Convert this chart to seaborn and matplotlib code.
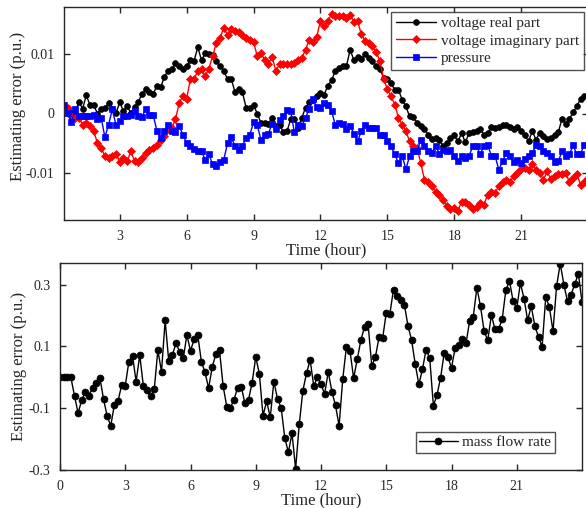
import numpy as np
import pandas as pd
import matplotlib
matplotlib.use("Agg")
import matplotlib.pyplot as plt
import seaborn as sns

# ---------------- data ----------------
volt_real = [0.0007, 0.0007, 0.0001, 0.0001, 0.002, 0.0008, 0.0031, 0.0014, 0.0014, 0.0, 0.0008, 0.001,
             0.0018, 0.0008, 0.0001, 0.0019, 0.0004, 0.0012, 0.0001, 0.0011, 0.002, 0.0033, 0.0041, 0.0037,
             0.0033, 0.0047, 0.0044, 0.0062, 0.0072, 0.0076, 0.0085, 0.0081, 0.0075, 0.008, 0.009, 0.0089,
             0.0112, 0.009, 0.0102, 0.01, 0.0099, 0.0088, 0.008, 0.0072, 0.0058, 0.0059, 0.0036,
             0.0041, 0.0036, 0.001, 0.001, 0.0014, 0.0, -0.0016, -0.0016, -0.0017, -0.0007, -0.0021, -0.0019,
             -0.0031, -0.003, -0.001, -0.0009, -0.0024, -0.0007, 0.001, 0.0019, 0.0023, 0.0029, 0.0035, 0.0032,
             0.0047, 0.0056, 0.0072, 0.0077, 0.008, 0.008, 0.0108, 0.009, 0.0095, 0.0092, 0.01, 0.0094,
             0.0089, 0.008, 0.0076, 0.006, 0.0059, 0.0051, 0.004, 0.004, 0.0023, 0.0012,
             -0.0005, -0.0006, -0.0016, -0.0021, -0.0026, -0.0036, -0.0043, -0.0041, -0.0045, -0.0055, -0.005,
             -0.0041, -0.0037, -0.0047, -0.0033, -0.0049, -0.0033, -0.0032, -0.003, -0.0027, -0.0036, -0.0033,
             -0.0023, -0.0024, -0.0023, -0.0019, -0.002, -0.0023, -0.0027, -0.0023, -0.003, -0.0036, -0.0047,
             -0.003, -0.0044, -0.0033, -0.0038, -0.0043, -0.0041, -0.0036, -0.0032, -0.0009, -0.0017, -0.0009,
             0.0002, 0.0012, 0.0025, 0.0029]

volt_imag = [0.0001, 0.001, -0.0005, -0.0007, -0.0007, -0.0019, -0.0016, -0.0021, -0.003, -0.005, -0.0058,
             -0.0072, -0.0075, -0.0072, -0.0068, -0.0082, -0.0075, -0.0081, -0.0064, -0.0081, -0.0082, -0.0075,
             -0.0066, -0.0062, -0.0058, -0.0053, -0.0044, -0.0038, -0.0027, -0.0024, -0.001, 0.0018, 0.0029,
             0.0025, 0.0058, 0.0058, 0.0072, 0.0075, 0.0063, 0.0076, 0.0097, 0.012, 0.0128, 0.0145, 0.0132,
             0.0142, 0.014, 0.0137,
             0.0132, 0.0128, 0.0125, 0.0121, 0.0097, 0.0103, 0.009, 0.0083, 0.0096, 0.0072, 0.0083, 0.0083,
             0.0083, 0.0083, 0.0086, 0.009, 0.0094, 0.0108, 0.0125, 0.0121, 0.013, 0.0156, 0.0148, 0.0156,
             0.0168, 0.0164, 0.0164, 0.0165, 0.0162, 0.0166, 0.0155, 0.0156, 0.0134, 0.0123, 0.012, 0.0114,
             0.0104, 0.0089, 0.0058, 0.0042, 0.0029, 0.0015, -0.0007, -0.0019, -0.003, -0.0047, -0.0055,
             -0.0058, -0.0084, -0.0112, -0.0115, -0.0123, -0.0133, -0.0137, -0.0146, -0.0157, -0.0162, -0.016,
             -0.0164, -0.0149, -0.015, -0.0154, -0.0162, -0.0158, -0.0151, -0.0154, -0.0137, -0.0133, -0.0134,
             -0.0123, -0.0116, -0.0112, -0.0115, -0.0106, -0.01, -0.0094, -0.0092, -0.0095, -0.0086, -0.0095,
             -0.01, -0.0112, -0.0098, -0.0111, -0.0106, -0.0103, -0.0103, -0.01, -0.0116, -0.0109, -0.0103,
             -0.012, -0.0116, -0.0109]

pressure = [0.0015, 0.0001, -0.0015, 0.0008, -0.0005, -0.0005, -0.0005, -0.0005, -0.0002, -0.001, -0.0007,
            -0.004, -0.0019, 0.0007, -0.002, -0.0013, -0.0005, -0.0005, -0.0003, 0.0005, -0.0005, -0.0006,
            0.0008, -0.0003, -0.0003, -0.0029, -0.0041, -0.003, -0.002, -0.003, -0.0032, -0.0021, -0.0036,
            -0.005, -0.0055, -0.006, -0.0063, -0.0064, -0.0078, -0.0069, -0.0086, -0.0088, -0.0082, -0.0078,
            -0.005, -0.004, -0.0055, -0.0061,
            -0.0055, -0.0041, -0.0036, -0.0015, -0.0019, -0.0045, -0.0037, -0.0034, -0.0017, -0.0027, -0.0011,
            -0.0005, 0.0006, 0.0004, -0.0032, -0.002, -0.0021, -0.0007, 0.0007, 0.0024, 0.0011, 0.001, 0.0017,
            0.0014, 0.0005, -0.002, -0.0016, -0.0017, -0.0027, -0.0021, -0.0034, -0.0047, -0.003, -0.0019,
            -0.0024, -0.0024, -0.0024, -0.0037, -0.0036, -0.0047, -0.0055, -0.0069, -0.0084, -0.0072, -0.0094,
            -0.0072,
            -0.0064, -0.0064, -0.0044, -0.0055, -0.0064, -0.0066, -0.0055, -0.0068, -0.0061, -0.0064, -0.0061,
            -0.0072, -0.0081, -0.0072, -0.0075, -0.0072, -0.0055, -0.0055, -0.0069, -0.0055, -0.0054, -0.0071,
            -0.0072, -0.0095, -0.0081, -0.0066, -0.0072, -0.0082, -0.0078, -0.0084, -0.0077, -0.0072, -0.0067,
            -0.0054, -0.0055, -0.0064, -0.0066, -0.0072, -0.0082, -0.0081, -0.0064, -0.0071, -0.0069, -0.0054,
            -0.0069, -0.0068, -0.0053]

mass_flow = [0.0, 0.0, 0.0, 0.0, -0.06, -0.116, -0.073, -0.046, -0.059, -0.033, -0.019, -0.001, -0.07,
             -0.125, -0.157, -0.089, -0.078, -0.025, -0.028, 0.051, 0.07, -0.014, 0.072, -0.028, -0.041,
             -0.062, -0.039, 0.088, 0.018, 0.184, 0.053, 0.072, 0.11, 0.083, 0.061, 0.137, 0.086, 0.123,
             0.137, 0.051, 0.016, -0.035, 0.034, 0.075, 0.088, -0.028, -0.095, -0.098, -0.073, -0.033, -0.03,
             -0.084, -0.073, -0.017, 0.065, 0.011, -0.124, -0.078, -0.129, -0.014, -0.07, -0.098, -0.195,
             -0.243, -0.181, -0.296, -0.152, -0.043, 0.013, 0.056, -0.028, 0.0, -0.023, -0.054, 0.018, -0.046,
             -0.091, -0.157, -0.005, 0.097, 0.085, -0.003, 0.058, 0.12, 0.163, 0.171, 0.037, 0.065, 0.129,
             0.126, 0.209, 0.206, 0.284, 0.263, 0.249, 0.235, 0.166, 0.12,
             0.042, -0.023, 0.027, 0.09, 0.061, -0.092, -0.057, -0.001, 0.08, 0.065, 0.031, 0.094, 0.106,
             0.123, 0.11, 0.182, 0.196, 0.29, 0.23, 0.149, 0.12, 0.201, 0.156, 0.155, 0.19, 0.282, 0.312,
             0.246, 0.223, 0.305, 0.255, 0.185, 0.23, 0.166, 0.131, 0.099, 0.26, 0.228, 0.149, 0.296, 0.368,
             0.3, 0.246, 0.268, 0.301, 0.335, 0.244]

top_start_hour = 0.5
bottom_start_hour = 0.0
step_hour = 1 / 6

x_ticks = [0, 3, 6, 9, 12, 15, 18, 21]
top_yticks = [-0.01, 0, 0.01]
top_yticklabels = ["-0.01", "0", "0.01"]
bot_yticks = [-0.3, -0.1, 0.1, 0.3]
bot_yticklabels = ["-0.3", "-0.1", "0.1", "0.3"]

series_labels = ["voltage real part", "voltage imaginary part", "pressure"]
mass_label = "mass flow rate"

# ---------------- style ----------------
sns.set_style("ticks")
plt.rcParams["font.family"] = ["Liberation Serif", "DejaVu Serif"]
plt.rcParams["axes.unicode_minus"] = False
axis_color = "#262626"

fig = plt.figure(figsize=(5.86, 5.08), dpi=100)
W, H = 586, 508
ax1 = fig.add_axes([64 / W, 1 - 220 / H, 524 / W, 213 / H])
ax2 = fig.add_axes([60 / W, 1 - 470 / H, 522 / W, 207 / H])


def make_df(vals, start):
    return pd.DataFrame({"t": start + np.arange(len(vals)) * step_hour, "v": vals})


specs = [
    (volt_real, "black", "o", 4.2),
    (volt_imag, "red", "D", 4.5),
    (pressure, "blue", "s", 4.2),
]
for (vals, col, mk, ms), lab in zip(specs, series_labels):
    sns.lineplot(data=make_df(vals, top_start_hour), x="t", y="v", ax=ax1, color=col,
                 marker=mk, markersize=ms, markeredgecolor=col, markerfacecolor=col,
                 markeredgewidth=0.5, linewidth=1.0, label=lab, estimator=None, sort=False)

sns.lineplot(data=make_df(mass_flow, bottom_start_hour), x="t", y="v", ax=ax2, color="black",
             marker="o", markersize=5.0, markeredgecolor="black", markerfacecolor="black",
             markeredgewidth=0.5, linewidth=1.0, label=mass_label, estimator=None, sort=False)

for ax in (ax1, ax2):
    ax.tick_params(direction="in", top=True, right=True, length=4.5, width=1,
                   colors=axis_color, labelcolor=axis_color, labelsize=10, pad=7)
    for s in ax.spines.values():
        s.set_visible(True)
        s.set_color(axis_color)
        s.set_linewidth(1)
    ax.set_xticks(x_ticks)
    ax.set_xticklabels([str(v) for v in x_ticks])
    ax.set_xlabel("Time (hour)", fontsize=12, color=axis_color, labelpad=0)
    ax.set_ylabel("Estimating error (p.u.)", fontsize=12, color=axis_color)
    ax.grid(False)

ax1.set_xlim(0.5, 24)
ax1.set_ylim(-0.018, 0.018)
ax1.set_yticks(top_yticks)
ax1.set_yticklabels(top_yticklabels)
ax1.yaxis.set_label_coords(-0.072, 0.535)

ax2.set_xlim(0, 24)
ax2.set_ylim(-0.3, 0.37)
ax2.set_yticks(bot_yticks)
ax2.set_yticklabels(bot_yticklabels)
ax2.yaxis.set_label_coords(-0.064, 0.5)

leg1 = ax1.legend(loc="upper right", bbox_to_anchor=(0.992, 0.977), borderaxespad=0,
                  fontsize=11, frameon=True, fancybox=False, edgecolor=axis_color,
                  borderpad=0.3, labelspacing=0.25, handlelength=2.6, handletextpad=0.35)
leg1.get_frame().set_linewidth(1)
leg2 = ax2.legend(loc="lower right", bbox_to_anchor=(0.948, 0.082), borderaxespad=0,
                  fontsize=11, frameon=True, fancybox=False, edgecolor=axis_color,
                  borderpad=0.25, handlelength=2.5, handletextpad=0.3)
leg2.get_frame().set_linewidth(1)

fig.savefig("out.png", dpi=100)
